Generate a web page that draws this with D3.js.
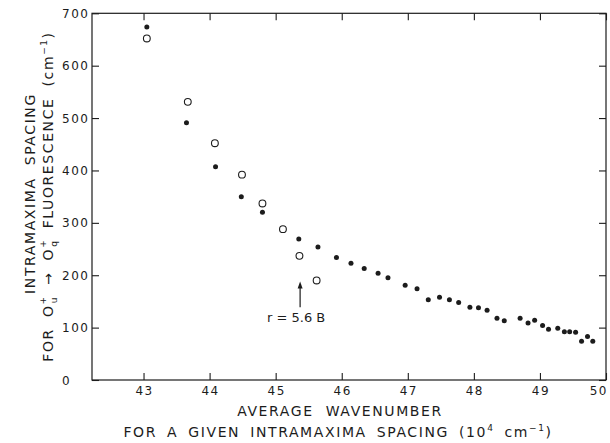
<!DOCTYPE html>
<html>
<head>
<meta charset="utf-8">
<script src="https://cdn.jsdelivr.net/npm/d3@7"></script>
<style>
  body { margin: 0; background: #fff; }
  text { font-family: "DejaVu Sans", sans-serif; fill: #1c1c1c; }
</style>
</head>
<body>
<div id="chart"></div>
<script>
// tick values
const xTicks = [43, 44, 45, 46, 47, 48, 49, 50];
const yTicks = [0, 100, 200, 300, 400, 500, 600, 700];

// open circles
const openPts = [
  { x: 43.05, y: 652 }, { x: 43.67, y: 531 }, { x: 44.08, y: 452 },
  { x: 44.49, y: 392 }, { x: 44.80, y: 337 }, { x: 45.11, y: 288 },
  { x: 45.36, y: 237 }, { x: 45.62, y: 190 }
];

// filled dots
const filledPts = [
  { x: 43.05, y: 674 }, { x: 43.65, y: 491 }, { x: 44.09, y: 407 },
  { x: 44.48, y: 350 }, { x: 44.80, y: 320 }, { x: 45.35, y: 269 },
  { x: 45.64, y: 254 }, { x: 45.92, y: 234 }, { x: 46.14, y: 223 },
  { x: 46.34, y: 213 }, { x: 46.55, y: 204 }, { x: 46.70, y: 195 },
  { x: 46.96, y: 181 }, { x: 47.14, y: 174 }, { x: 47.31, y: 153 },
  { x: 47.48, y: 158 }, { x: 47.63, y: 153 }, { x: 47.77, y: 148 },
  { x: 47.94, y: 139 }, { x: 48.07, y: 138 }, { x: 48.20, y: 133 },
  { x: 48.35, y: 118 }, { x: 48.46, y: 113 }, { x: 48.70, y: 118 },
  { x: 48.82, y: 109 }, { x: 48.92, y: 114 }, { x: 49.04, y: 104 },
  { x: 49.13, y: 97 }, { x: 49.27, y: 99 }, { x: 49.37, y: 92 },
  { x: 49.45, y: 92 }, { x: 49.54, y: 91 }, { x: 49.63, y: 74 },
  { x: 49.72, y: 83 }, { x: 49.80, y: 74 }
];

// arrow marking r = 5.6 B
const arrowAt = { x: 45.37, from: 139, to: 188 };

const W = 610, H = 443;
const x = d3.scaleLinear().domain([42.22, 50]).range([92, 606]);
const y = d3.scaleLinear().domain([0, 700]).range([380, 13.3]);

const svg = d3.select("#chart").append("svg")
  .attr("width", W).attr("height", H);

const ink = "#1c1c1c";

// frame
svg.append("rect")
  .attr("x", x(42.22)).attr("y", y(700))
  .attr("width", x(50) - x(42.22)).attr("height", y(0) - y(700))
  .attr("fill", "none").attr("stroke", ink).attr("stroke-width", 1.2);

// inward ticks on all four sides
function ticksOnly(g) {
  g.select(".domain").remove();
  g.selectAll("line").attr("stroke", ink).attr("stroke-width", 1.1);
}
svg.append("g").attr("transform", `translate(0,${y(0)})`)
  .call(d3.axisBottom(x).tickValues(xTicks).tickSize(-7).tickFormat(""))
  .call(ticksOnly);
svg.append("g").attr("transform", `translate(0,${y(700)})`)
  .call(d3.axisTop(x).tickValues(xTicks).tickSize(-7).tickFormat(""))
  .call(ticksOnly);
svg.append("g").attr("transform", `translate(${x(42.22)},0)`)
  .call(d3.axisLeft(y).tickValues(yTicks).tickSize(-7).tickFormat(""))
  .call(ticksOnly);
svg.append("g").attr("transform", `translate(${x(50)},0)`)
  .call(d3.axisRight(y).tickValues(yTicks).tickSize(-7).tickFormat(""))
  .call(ticksOnly);

// tick labels (last one pulled inside the frame edge, as in the original)
const lastX = xTicks[xTicks.length - 1];
svg.append("g").selectAll("text")
  .data(xTicks).enter().append("text")
  .attr("x", d => d === lastX ? x(d) + 2 : x(d) + 1)
  .attr("y", 395)
  .attr("text-anchor", d => d === lastX ? "end" : "middle")
  .attr("font-size", 12)
  .attr("letter-spacing", 1.5)
  .text(d => d);

svg.append("g").selectAll("text")
  .data(yTicks).enter().append("text")
  .attr("x", 62)
  .attr("y", d => y(d))
  .attr("dy", "0.38em")
  .attr("font-size", 12)
  .attr("letter-spacing", 1.5)
  .text(d => d);

// data
svg.append("g").selectAll("circle")
  .data(openPts).enter().append("circle")
  .attr("cx", d => x(d.x)).attr("cy", d => y(d.y))
  .attr("r", 3.4)
  .attr("fill", "none").attr("stroke", ink).attr("stroke-width", 1.1);

svg.append("g").selectAll("circle")
  .data(filledPts).enter().append("circle")
  .attr("cx", d => x(d.x)).attr("cy", d => y(d.y))
  .attr("r", 2.5)
  .attr("fill", ink);

// arrow + label
const ax = x(arrowAt.x);
svg.append("line")
  .attr("x1", ax).attr("x2", ax)
  .attr("y1", y(arrowAt.from)).attr("y2", y(arrowAt.to) + 5)
  .attr("stroke", ink).attr("stroke-width", 1.2);
svg.append("path")
  .attr("d", `M${ax},${y(arrowAt.to)} L${ax - 2.5},${y(arrowAt.to) + 7} L${ax + 2.5},${y(arrowAt.to) + 7} Z`)
  .attr("fill", ink);
svg.append("text")
  .attr("x", ax - 4).attr("y", 322)
  .attr("text-anchor", "middle")
  .attr("font-size", 13)
  .text("r = 5.6 B");

// x axis title
svg.append("text")
  .attr("x", 340).attr("y", 416)
  .attr("text-anchor", "middle")
  .attr("font-size", 14)
  .attr("letter-spacing", 1.6)
  .attr("word-spacing", 6)
  .text("AVERAGE WAVENUMBER");

const xt2 = svg.append("text")
  .attr("x", 338).attr("y", 437)
  .attr("text-anchor", "middle")
  .attr("font-size", 14)
  .attr("letter-spacing", 1.6)
  .attr("word-spacing", 4);
xt2.append("tspan").text("FOR A GIVEN INTRAMAXIMA SPACING (10");
xt2.append("tspan").attr("font-size", 9).attr("dy", -6).text("4");
xt2.append("tspan").attr("dy", 6).text(" cm");
xt2.append("tspan").attr("font-size", 9).attr("dy", -6).text("−1");
xt2.append("tspan").attr("dy", 6).text(")");

// y axis title
const yg = svg.append("g").attr("transform", "rotate(-90)");
yg.append("text")
  .attr("x", -193.5).attr("y", 35)
  .attr("text-anchor", "middle")
  .attr("font-size", 14)
  .attr("letter-spacing", 1.6)
  .attr("word-spacing", 6)
  .text("INTRAMAXIMA SPACING");

const yt2 = yg.append("text")
  .attr("x", -196.5).attr("y", 53)
  .attr("text-anchor", "middle")
  .attr("font-size", 14)
  .attr("letter-spacing", 1.6)
  .attr("word-spacing", 5);
yt2.append("tspan").text("FOR  O");
yt2.append("tspan").attr("font-size", 9).attr("dy", -7).text("+");
yt2.append("tspan").attr("font-size", 9).attr("dx", -8).attr("dy", 11).text("u");
yt2.append("tspan").attr("dy", -4).text(" → O");
yt2.append("tspan").attr("font-size", 9).attr("dy", -7).text("+");
yt2.append("tspan").attr("font-size", 9).attr("dx", -8).attr("dy", 11).text("q");
yt2.append("tspan").attr("dy", -4).text("  FLUORESCENCE  (cm");
yt2.append("tspan").attr("font-size", 9).attr("dy", -6).text("−1");
yt2.append("tspan").attr("dy", 6).text(")");
</script>
</body>
</html>
